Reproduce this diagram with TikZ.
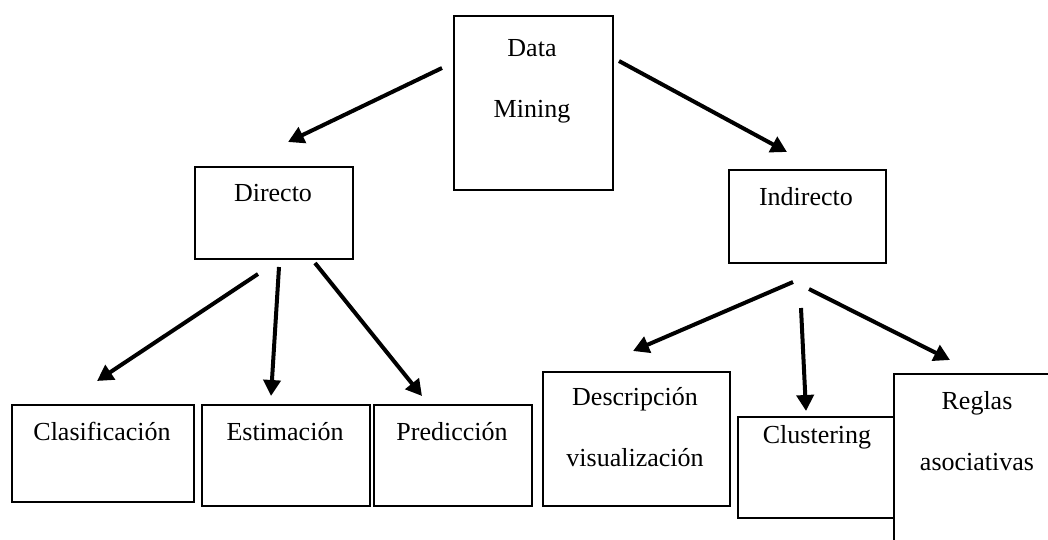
\documentclass[tikz,border=0pt]{standalone}
\usepackage{fontspec}
\setmainfont{Liberation Serif}
\usetikzlibrary{arrows.meta}
\begin{document}
\begin{tikzpicture}[x=1pt,y=-1pt,
  box/.style={draw=black, line width=1.6pt, fill=white, inner sep=0pt, anchor=north west},
  txt/.style={font=\fontsize{26}{61}\selectfont, align=center, anchor=base, inner sep=0pt},
  arr/.style={line width=4pt, -{Triangle[length=16pt,width=17pt]}}]
\useasboundingbox (0,0) rectangle (1048,539);
\clip (0,0) rectangle (1048,539);

% boxes
\node[box, minimum width=159pt, minimum height=174pt] (dm)  at (453,15)  {};
\node[box, minimum width=158pt, minimum height=92pt]  (dir) at (194,166) {};
\node[box, minimum width=157pt, minimum height=93pt]  (ind) at (728,169) {};
\node[box, minimum width=182pt, minimum height=97pt]  (cla) at (11,404)  {};
\node[box, minimum width=168pt, minimum height=101pt] (est) at (201,404) {};
\node[box, minimum width=158pt, minimum height=101pt] (pre) at (373,404) {};
\node[box, minimum width=187pt, minimum height=134pt] (des) at (542,371) {};
\node[box, minimum width=160pt, minimum height=101pt] (clu) at (737,416) {};
\node[box, minimum width=168pt, minimum height=200pt] (reg) at (893,373) {};

% labels (base anchor = baseline of the last line)
\node[txt] (dmt)  at (532,117) {Data\\Mining};
\node[txt] (dirt) at (273,201) {Directo};
\node[txt] (indt) at (806,205) {Indirecto};
\node[txt] (clat) at (102,440) {Clasificación};
\node[txt] (estt) at (285,440) {Estimación};
\node[txt] (pret) at (452,440) {Predicción};
\node[txt] (dest) at (635,466) {Descripción\\visualización};
\node[txt] (clut) at (817,443) {Clustering};
\node[txt] (regt) at (977,470) {Reglas\\asociativas};

% arrow end points
\coordinate (a1s) at (442,68);  \coordinate (a1e) at (288,142);
\coordinate (a2s) at (619,61);  \coordinate (a2e) at (787,152);
\coordinate (a3s) at (258,274); \coordinate (a3e) at (97,381);
\coordinate (a4s) at (279,267); \coordinate (a4e) at (271,396);
\coordinate (a5s) at (315,263); \coordinate (a5e) at (422,396);
\coordinate (a6s) at (793,282); \coordinate (a6e) at (633,351);
\coordinate (a7s) at (801,308); \coordinate (a7e) at (806,411);
\coordinate (a8s) at (809,289); \coordinate (a8e) at (950,360);

% arrows
\draw[arr] (a1s) -- (a1e);
\draw[arr] (a2s) -- (a2e);
\draw[arr] (a3s) -- (a3e);
\draw[arr] (a4s) -- (a4e);
\draw[arr] (a5s) -- (a5e);
\draw[arr] (a6s) -- (a6e);
\draw[arr] (a7s) -- (a7e);
\draw[arr] (a8s) -- (a8e);
\end{tikzpicture}
\end{document}
